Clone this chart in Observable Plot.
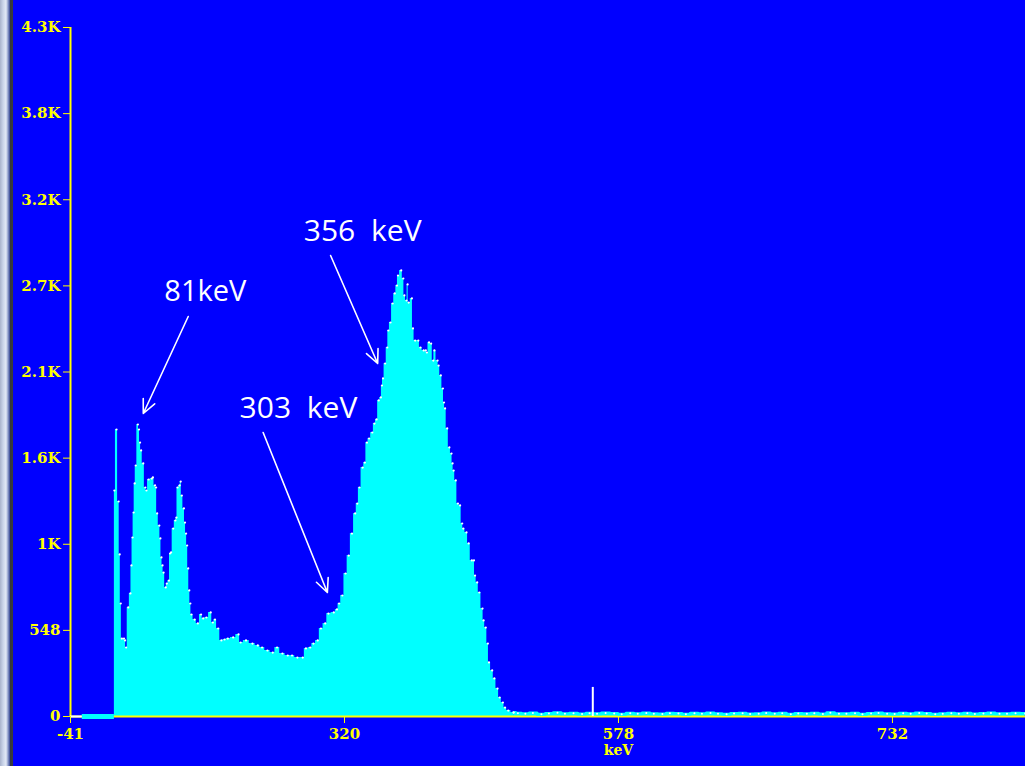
<!DOCTYPE html>
<html>
<head>
<meta charset="utf-8">
<script src="https://cdn.jsdelivr.net/npm/d3@7"></script>
<script src="https://cdn.jsdelivr.net/npm/@observablehq/plot@0.6"></script>
<style>
  html, body { margin: 0; padding: 0; background: #0000FF; overflow: hidden; }
  #wrap { position: relative; width: 1025px; height: 766px; }
  #frame { position: absolute; left: 0; top: 0; width: 13px; height: 766px;
    background: linear-gradient(to right, #a9b3cc 0px, #c9d3e8 3px, #e2e9f6 6px, #8e9ccb 8px, #4a5aa0 9.5px, #333840 10.5px, #3b3b3b 13px); }
  .note text { word-spacing: 8px; }
</style>
</head>
<body>
<div id="wrap"><div id="chart"></div><div id="frame"></div></div>
<script>
// Spectrum (1024-channel MCA): channel numbers and counts
const channels = [41,43,45,46,47,48,50,51,52,54,56,57,58,59,60,61,63,64,65,66,68,70,71,73,76,77,79,80,81,83,84,85,86,87,89,90,92,93,94,96,98,99,100,102,103,104,106,107,108,109,110,111,112,113,116,119,122,124,127,131,133,135,138,141,144,147,152,157,159,164,170,175,179,184,189,193,198,203,207,212,217,220,224,227,231,234,238,241,246,249,251,254,257,260,263,266,268,270,273,275,277,279,282,284,286,288,290,291,292,294,296,297,299,301,303,305,306,309,311,312,314,315,316,319,320,322,325,327,330,332,333,335,337,339,340,343,344,346,348,349,350,352,354,356,357,358,360,362,364,366,367,370,372,375,377,378,380,382,385,386,388,390,391,394,396,399,401,404,406,409,414];
const counts = [1438,1826,1368,1031,719,496,496,484,439,694,783,961,1139,1298,1483,1597,1858,1826,1743,1693,1610,1457,1438,1508,1514,1521,1470,1457,1292,1215,1133,1012,961,916,821,846,865,1037,1044,1196,1247,1266,1457,1470,1495,1406,1324,1234,1164,1088,942,802,719,649,617,592,649,624,630,662,598,617,560,484,490,496,503,522,471,484,464,452,439,420,407,439,401,388,388,375,375,433,439,464,484,560,592,655,662,681,719,770,910,1024,1164,1292,1355,1457,1584,1616,1743,1769,1807,1864,1890,2011,2030,2106,2151,2246,2348,2456,2507,2628,2692,2742,2806,2838,2787,2679,2647,2749,2634,2660,2469,2392,2392,2348,2329,2329,2316,2380,2373,2265,2329,2265,2233,2170,2087,1998,1960,1833,1712,1673,1610,1565,1502,1355,1343,1228,1196,1171,1101,993,993,897,853,789,687,611,566,464,344,293,242,178,121,89,57,38,25];

// Low-count tail above the 356 keV region
const tailChannels = [414,418,425,432,440,447,455,462,470,478,485,492,500,508,515,523,530,538,545,553,560,568,575,583,590,598,605,613,620,628,635,643,650,658,665,673,680,688,695,703,710,718,725,733,740,748,755,763,770,778,785,793,800,808,815,823,830,838,845,853,860,868,875,883,892];
const tailCounts = [25,20,18,22,15,19,24,17,20,16,21,18,23,19,15,20,17,22,18,16,21,19,14,20,18,23,17,15,19,21,16,18,22,17,20,15,19,18,21,16,24,18,17,20,15,19,22,18,16,20,17,23,19,15,18,21,17,20,16,19,22,18,17,20,19];

// Empty channels below the threshold
const zeroChannels = [11, 41];
const offsetChannels = [0, 11];

// Single white channel (cursor)
const cursorChannel = [488];
const cursorCount = [185];

// Axis ticks
const xTickChannels = [0, 256, 512, 768];
const xTickLabels = ["-41", "320", "578", "732"];
const xUnit = "keV";
const yTickValues = [0, 548, 1096, 1644, 2192, 2740, 3288, 3836, 4384];
const yTickLabels = ["0", "548", "1K", "1.6K", "2.1K", "2.7K", "3.2K", "3.8K", "4.3K"];

// Annotations
const noteTexts = ["81keV", "356 keV", "303 keV"];
const noteChannels = [126, 273, 213];
const noteCounts = [2704, 3086, 1960];
const noteSizes = [29, 30, 30];
const arrowFromCh = [110, 243, 180];
const arrowFromCount = [2545, 2933, 1807];
const arrowToCh = [68, 287, 240];
const arrowToCount = [1928, 2246, 789];

const spec = channels.map((ch, i) => ({ch, c: counts[i]}));
const tail = tailChannels.map((ch, i) => ({ch, c: tailCounts[i]}));
const notes = noteTexts.map((t, i) => ({t, ch: noteChannels[i], c: noteCounts[i], s: noteSizes[i]}));
const arrows = arrowFromCh.map((v, i) => ({x1: v, y1: arrowFromCount[i], x2: arrowToCh[i], y2: arrowToCount[i]}));
const cursor = cursorChannel.map((ch, i) => ({ch, c: cursorCount[i]}));

const CYAN = "#00FFFF", YEL = "#FFFF00";
const axisFont = {fontFamily: "'DejaVu Serif', serif", fontWeight: "bold", fontSize: 15};

const chart = Plot.plot({
  width: 1025, height: 766,
  marginLeft: 70, marginRight: 0, marginTop: 27, marginBottom: 50,
  style: {background: "#0000FF", color: YEL, overflow: "visible"},
  x: {domain: [0, 892.3], axis: null},
  y: {domain: [0, 4384], axis: null},
  marks: [
    Plot.areaY(spec, {x: "ch", y: "c", curve: "step", fill: CYAN}),
    Plot.areaY(tail, {x: "ch", y: "c", curve: "step", fill: CYAN}),
    Plot.ruleX([0], {y1: 0, y2: 4384, stroke: YEL, strokeWidth: 2}),
    Plot.ruleY([0], {stroke: YEL, strokeWidth: 2}),
    Plot.ruleY([0], {x1: zeroChannels[0], x2: zeroChannels[1], stroke: CYAN, strokeWidth: 5}),
    Plot.ruleY([0], {x1: offsetChannels[0], x2: offsetChannels[1], stroke: "white", strokeWidth: 2}),
    Plot.line(tail, {x: "ch", y: "c", curve: "step", stroke: CYAN, strokeWidth: 3}),
    Plot.dot(spec, {x: "ch", y: "c", r: 1.1, fill: "white", stroke: null}),
    Plot.dot(tail, {x: "ch", y: "c", r: 1, fill: "white", stroke: null}),
    Plot.ruleX(cursor, {x: "ch", y1: 0, y2: "c", stroke: "white", strokeWidth: 2}),
    Plot.axisY({ticks: yTickValues, tickFormat: d => yTickLabels[yTickValues.indexOf(d)], tickSize: 7, tickPadding: 3, stroke: YEL, fill: YEL, ...axisFont}),
    Plot.axisX({ticks: xTickChannels, tickFormat: d => xTickLabels[xTickChannels.indexOf(d)], tickSize: 7, tickPadding: 5, stroke: YEL, fill: YEL, ...axisFont}),
    Plot.text([xUnit], {x: xTickChannels[2], y: 0, dy: 34, text: d => d, fill: YEL, ...axisFont, fontSize: 14}),
    Plot.arrow(arrows, {x1: "x1", y1: "y1", x2: "x2", y2: "y2", stroke: "white", strokeWidth: 1.6, headLength: 14, headAngle: 50}),
    Plot.text(notes.filter(d => d.s === 29), {x: "ch", y: "c", text: "t", fill: "white", fontSize: 29, fontFamily: "'Open Sans', sans-serif", className: "note"}),
    Plot.text(notes.filter(d => d.s === 30), {x: "ch", y: "c", text: "t", fill: "white", fontSize: 30, fontFamily: "'Open Sans', sans-serif", className: "note"})
  ]
});
document.getElementById("chart").appendChild(chart);
</script>
</body>
</html>
